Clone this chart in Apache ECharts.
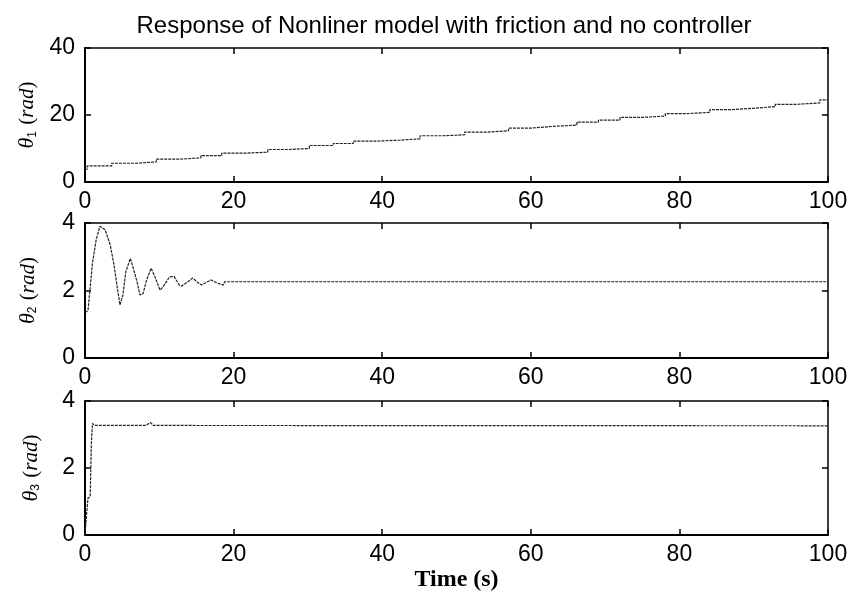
<!DOCTYPE html>
<html>
<head>
<meta charset="utf-8">
<script src="https://cdn.jsdelivr.net/npm/echarts@6/dist/echarts.min.js"></script>
<style>
  html, body { margin: 0; padding: 0; background: #fff; }
  #chart { width: 856px; height: 595px; }
</style>
</head>
<body>
<div id="chart"></div>
<script>
// Joint angle histories of the free (uncontrolled) nonlinear model with friction

// theta1: slowly ratcheting staircase, held constant between samples
const t1 = [0, 0.3, 3.6, 6.7, 9.6, 12.7, 15.6, 18.4, 21.4, 24.6, 27.4, 30.2, 33.4, 36.1, 39.3, 42.4, 45.1, 48.2,
            51.1, 54.1, 57.0, 60.1, 63.0, 66.2, 69.1, 72.0, 75.1, 78.1, 81.0, 84.1, 87.0, 90.0, 92.9, 95.8, 98.9, 100];
const theta1 = [3.8, 4.8, 5.6, 6.0, 6.8, 7.2, 7.9, 8.6, 8.9, 9.7, 10.0, 10.9, 11.5, 12.2, 12.5, 12.9, 13.8, 14.1,
                14.9, 15.3, 16.1, 16.6, 17.0, 17.9, 18.5, 19.3, 19.7, 20.4, 20.8, 21.6, 22.0, 22.5, 23.2, 23.6, 24.5, 24.5];

// theta2: damped oscillation settling near 2.26 rad
const t2 = [0, 0.4, 0.7, 1.0, 1.5, 2.0, 2.7, 3.4, 3.9, 4.3, 4.7, 5.1, 5.5, 6.1, 6.5, 7.0, 7.4, 7.8, 8.3, 8.9,
            9.4, 10.1, 10.5, 11.4, 12.0, 12.7, 13.0, 13.8, 14.5, 15.1, 15.7, 16.4, 17.0, 17.8, 18.6, 18.8, 100];
const theta2 = [1.35, 1.4, 2.1, 2.8, 3.5, 3.9, 3.8, 3.35, 2.76, 2.16, 1.57, 1.87, 2.56, 2.95, 2.66, 2.26, 1.87, 1.9, 2.31, 2.66,
                2.41, 2.01, 2.11, 2.41, 2.41, 2.16, 2.13, 2.25, 2.37, 2.25, 2.16, 2.25, 2.31, 2.22, 2.16, 2.26, 2.26];

// theta3: fast rise then nearly constant
const t3 = [0, 0.2, 0.4, 0.7, 0.85, 1.0, 1.3, 8.2, 8.8, 9.2, 100];
const theta3 = [0, 0.6, 1.1, 1.15, 2.7, 3.33, 3.27, 3.27, 3.36, 3.27, 3.26];

const xTicks = { min: 0, max: 100, interval: 20 };
const yRanges = [
  { min: 0, max: 40, interval: 20 },
  { min: 0, max: 4, interval: 2 },
  { min: 0, max: 4, interval: 2 }
];
const yNames = ['1', '2', '3'];

const zip = (xs, ys) => xs.map((x, i) => [x, ys[i]]);

const gridBoxes = [
  { left: 85, right: 28, top: 48, height: 134 },
  { left: 85, right: 28, top: 223, height: 135 },
  { left: 85, right: 28, top: 401, height: 134 }
];
const nameGaps = [45, 46, 43];

const labelFont = { fontFamily: 'Liberation Sans, Arial, sans-serif', fontSize: 23, color: '#000' };
const tickStyle = { show: true, inside: true, length: 6, lineStyle: { color: '#000', width: 1.5 } };

const xAxes = [], yAxes = [];
gridBoxes.forEach((g, i) => {
  xAxes.push({
    type: 'value', gridIndex: i, position: 'bottom', ...xTicks,
    axisLine: { show: true, onZero: false, lineStyle: { color: '#000', width: 2 } },
    axisTick: tickStyle,
    axisLabel: { ...labelFont, margin: 8 },
    splitLine: { show: false },
    name: i === 2 ? 'Time (s)' : '',
    nameLocation: 'middle', nameGap: 33,
    nameTextStyle: { fontFamily: 'Liberation Serif, Times New Roman, serif', fontWeight: 'bold', fontSize: 24, color: '#000' }
  });
  xAxes.push({
    type: 'value', gridIndex: i, position: 'top', ...xTicks,
    axisLine: { show: true, onZero: false, lineStyle: { color: '#000', width: 1.5 } },
    axisTick: tickStyle, axisLabel: { show: false }, splitLine: { show: false }
  });
  yAxes.push({
    type: 'value', gridIndex: i, position: 'left', ...yRanges[i],
    axisLine: { show: true, onZero: false, lineStyle: { color: '#000', width: 2 } },
    axisTick: tickStyle,
    axisLabel: { ...labelFont, margin: 10 },
    splitLine: { show: false },
    name: '{th|θ}{sub|' + yNames[i] + '}{tx| (}{it|rad}{tx|)}',
    nameLocation: 'middle', nameRotate: 90, nameGap: nameGaps[i],
    nameTextStyle: {
      color: '#000',
      rich: {
        th: { fontFamily: 'Liberation Serif, serif', fontStyle: 'italic', fontSize: 22, color: '#000' },
        sub: { fontFamily: 'Liberation Sans, sans-serif', fontSize: 12, verticalAlign: 'bottom', color: '#000', padding: [0, 1, 0, 0] },
        tx: { fontFamily: 'Liberation Serif, serif', fontSize: 21, color: '#000' },
        it: { fontFamily: 'Liberation Serif, serif', fontStyle: 'italic', fontSize: 21, color: '#000' }
      }
    }
  });
  yAxes.push({
    type: 'value', gridIndex: i, position: 'right', ...yRanges[i],
    axisLine: { show: true, onZero: false, lineStyle: { color: '#000', width: 1.5 } },
    axisTick: tickStyle, axisLabel: { show: false }, splitLine: { show: false }
  });
});

const lineStyle = { color: '#222', width: 1.2, type: [3, 1] };

const option = {
  animation: false,
  backgroundColor: '#fff',
  title: {
    text: 'Response of Nonliner model with friction and no controller',
    left: 439, top: 9, textAlign: 'center',
    textStyle: { fontFamily: 'Liberation Sans, Arial, sans-serif', fontWeight: 'normal', fontSize: 24, color: '#000' }
  },
  grid: gridBoxes,
  xAxis: xAxes,
  yAxis: yAxes,
  series: [
    { type: 'line', xAxisIndex: 0, yAxisIndex: 0, step: 'end', showSymbol: false, data: zip(t1, theta1), lineStyle },
    { type: 'line', xAxisIndex: 2, yAxisIndex: 2, showSymbol: false, data: zip(t2, theta2), lineStyle },
    { type: 'line', xAxisIndex: 4, yAxisIndex: 4, showSymbol: false, data: zip(t3, theta3), lineStyle }
  ]
};

echarts.init(document.getElementById('chart'), null, { renderer: 'canvas' }).setOption(option);
</script>
</body>
</html>
